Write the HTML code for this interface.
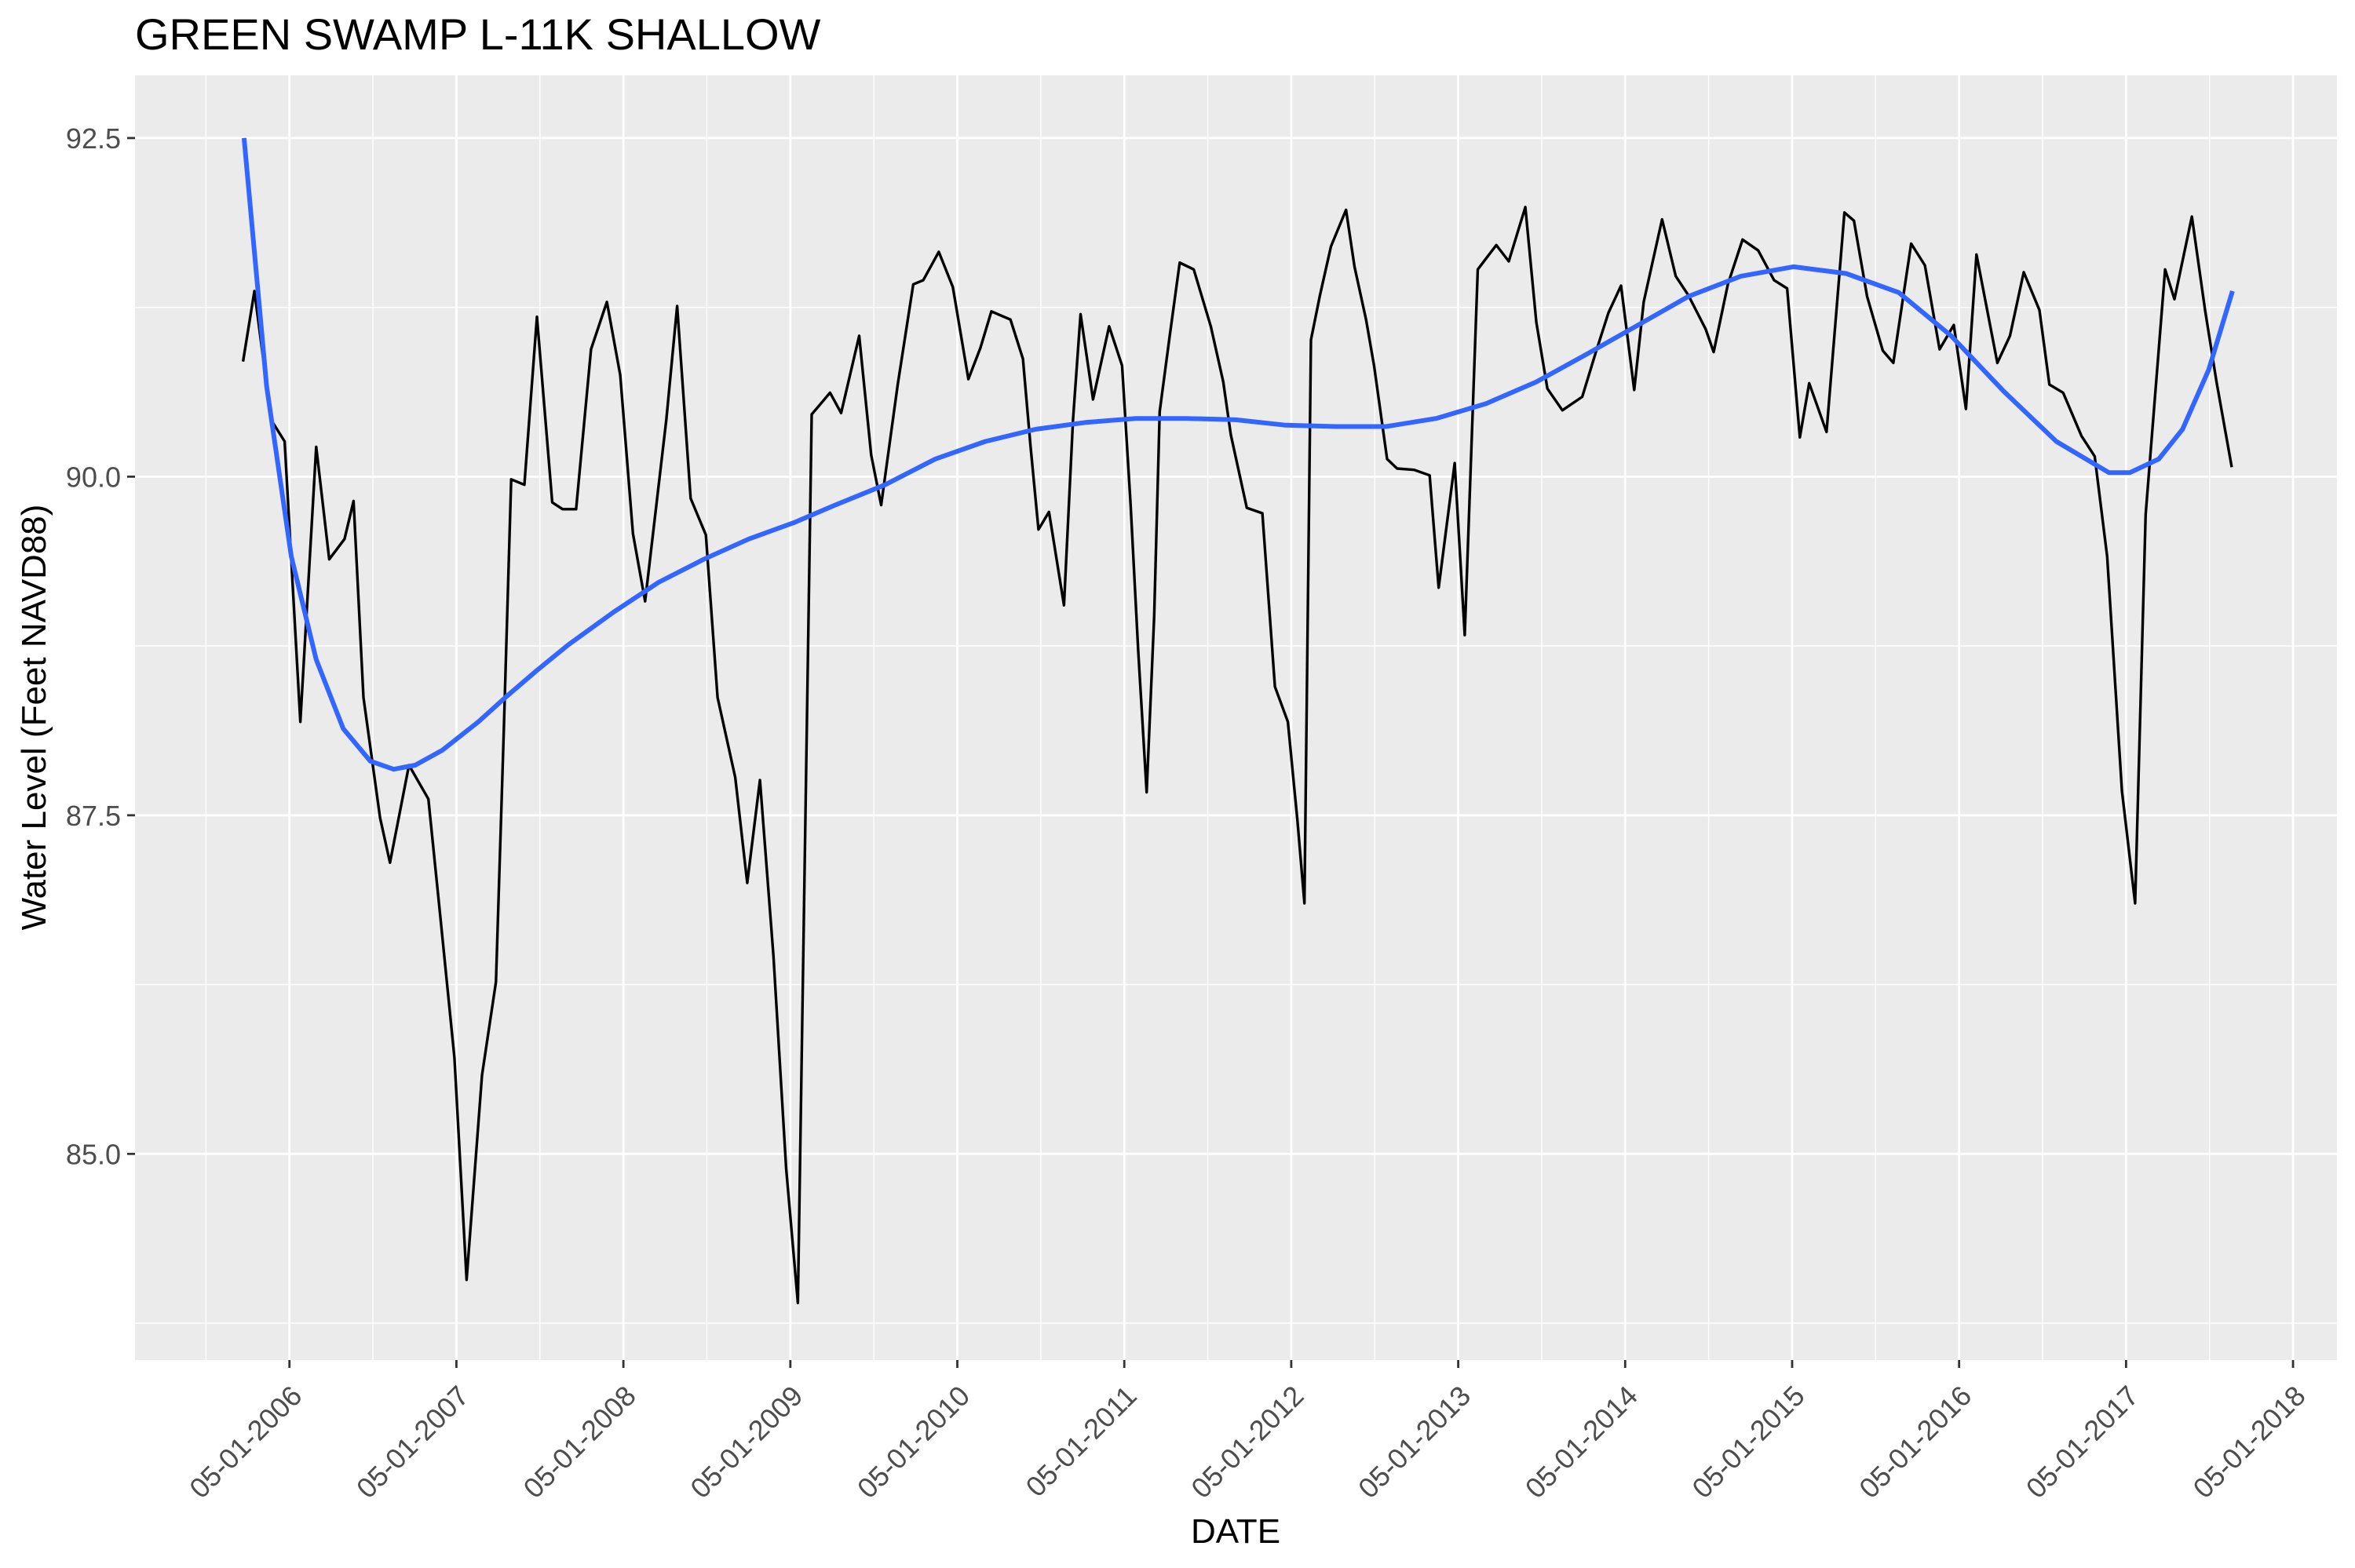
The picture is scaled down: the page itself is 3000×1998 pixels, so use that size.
<!DOCTYPE html>
<html><head><meta charset="utf-8"><style>
html,body{margin:0;padding:0;background:#fff;}
svg{display:block;font-family:"Liberation Sans",Arial,sans-serif;}
</style></head><body>
<svg id="chart" width="3000" height="1998" viewBox="0 0 3000 1998" xmlns="http://www.w3.org/2000/svg">
<rect x="0" y="0" width="3000" height="1998" fill="#fff"/>
<text x="172" y="63" font-size="56" fill="#000">GREEN SWAMP L-11K SHALLOW</text>
<rect x="172" y="96" width="2805" height="1637" fill="#ebebeb"/>
<g id="grid"></g>
<g id="axes"></g>
<g id="series"></g>
<text x="1574" y="1966" font-size="44" text-anchor="middle" fill="#000">DATE</text>
<text transform="translate(58,914) rotate(-90)" font-size="44" text-anchor="middle" fill="#000">Water Level (Feet NAVD88)</text>
</svg>
<script>
const obsDates = [2006.052,2006.120,2006.220,2006.301,2006.395,2006.490,2006.568,2006.660,2006.714,2006.773,2006.873,2006.932,2007.046,2007.162,2007.232,2007.318,2007.391,2007.483,2007.567,2007.613,2007.658,2007.737,2007.812,2007.904,2007.966,2008.047,2008.136,2008.231,2008.311,2008.387,2008.460,2008.587,2008.652,2008.733,2008.824,2008.894,2009.000,2009.072,2009.148,2009.229,2009.305,2009.375,2009.458,2009.568,2009.634,2009.742,2009.814,2009.874,2009.973,2010.066,2010.126,2010.219,2010.303,2010.396,2010.468,2010.534,2010.648,2010.723,2010.768,2010.816,2010.879,2010.969,2011.023,2011.068,2011.143,2011.239,2011.317,2011.368,2011.413,2011.464,2011.509,2011.542,2011.602,2011.662,2011.746,2011.848,2011.923,2011.968,2012.064,2012.157,2012.232,2012.310,2012.367,2012.409,2012.448,2012.502,2012.568,2012.658,2012.709,2012.778,2012.826,2012.904,2012.964,2013.066,2013.159,2013.213,2013.309,2013.369,2013.447,2013.558,2013.633,2013.732,2013.798,2013.864,2013.954,2014.073,2014.157,2014.230,2014.305,2014.384,2014.441,2014.551,2014.633,2014.708,2014.812,2014.860,2014.945,2015.033,2015.127,2015.222,2015.300,2015.376,2015.432,2015.536,2015.643,2015.700,2015.779,2015.873,2015.936,2016.043,2016.125,2016.213,2016.298,2016.371,2016.434,2016.559,2016.635,2016.717,2016.811,2016.871,2016.953,2017.063,2017.142,2017.217,2017.305,2017.384,2017.447,2017.564,2017.620,2017.724,2017.803,2017.872,2017.963];
const obsValues = [90.85,91.37,90.42,90.26,88.19,90.22,89.39,89.54,89.82,88.37,87.48,87.15,87.87,87.62,86.77,85.71,84.07,85.58,86.27,88.09,89.98,89.94,91.18,89.81,89.76,89.76,90.94,91.29,90.75,89.58,89.08,90.42,91.26,89.84,89.57,88.37,87.78,87.00,87.76,86.46,84.89,83.90,90.46,90.62,90.47,91.04,90.16,89.79,90.68,91.42,91.45,91.66,91.40,90.72,90.95,91.22,91.16,90.87,90.23,89.61,89.74,89.05,90.42,91.20,90.57,91.11,90.82,89.79,88.72,87.67,88.97,90.48,91.04,91.58,91.53,91.11,90.70,90.31,89.77,89.73,88.45,88.19,87.46,86.85,91.01,91.34,91.70,91.97,91.55,91.16,90.82,90.13,90.06,90.05,90.01,89.18,90.10,88.83,91.53,91.71,91.59,91.99,91.14,90.65,90.49,90.59,90.93,91.21,91.41,90.64,91.29,91.90,91.48,91.34,91.09,90.92,91.42,91.75,91.67,91.45,91.39,90.29,90.69,90.33,91.95,91.89,91.33,90.93,90.84,91.72,91.56,90.94,91.12,90.50,91.64,90.84,91.04,91.51,91.23,90.68,90.62,90.30,90.15,89.41,87.68,86.85,89.72,91.53,91.31,91.92,91.23,90.70,90.07];
const smoothDates = [2006.058,2006.193,2006.341,2006.49,2006.652,2006.814,2006.954,2007.083,2007.245,2007.461,2007.623,2007.812,2008.001,2008.271,2008.541,2008.811,2009.081,2009.35,2009.598,2009.898,2010.198,2010.498,2010.798,2011.098,2011.398,2011.698,2011.998,2012.298,2012.598,2012.898,2013.198,2013.498,2013.798,2014.079,2014.394,2014.708,2015.023,2015.338,2015.653,2015.968,2016.282,2016.597,2016.912,2017.227,2017.353,2017.526,2017.668,2017.825,2017.967];
const smoothValues = [92.50,90.67,89.41,88.65,88.14,87.90,87.84,87.87,87.98,88.19,88.37,88.57,88.76,89.00,89.22,89.39,89.54,89.66,89.79,89.94,90.13,90.26,90.35,90.40,90.43,90.43,90.42,90.38,90.37,90.37,90.43,90.54,90.70,90.89,91.11,91.33,91.48,91.55,91.50,91.36,91.04,90.63,90.26,90.03,90.03,90.13,90.35,90.79,91.37];
const yTickValues = [85, 87.5, 90, 92.5];
const yTickLabels = ["85.0","87.5","90.0","92.5"];
const yMinorValues = [83.75, 86.25, 88.75, 91.25];
const xTickYears = [2006,2007,2008,2009,2010,2011,2012,2013,2014,2015,2016,2017,2018];
const xTickLabels = ["05-01-2006","05-01-2007","05-01-2008","05-01-2009","05-01-2010","05-01-2011","05-01-2012","05-01-2013","05-01-2014","05-01-2015","05-01-2016","05-01-2017","05-01-2018"];

const NS = "http://www.w3.org/2000/svg";
const PL=172, PR=2977, PT=96, PB=1733;
const X0=2005.405, X1=2018.593, Y0=83.478, Y1=92.963;
function xs(t){return PL+(t-X0)/(X1-X0)*(PR-PL);}
function ys(v){return PT+(Y1-v)/(Y1-Y0)*(PB-PT);}
function mk(tag, attrs, parent){const e=document.createElementNS(NS,tag);for(const k in attrs)e.setAttribute(k,attrs[k]);parent.appendChild(e);return e;}
const grid=document.getElementById('grid'), axes=document.getElementById('axes'), series=document.getElementById('series');

yMinorValues.forEach(v=>{
  const l=mk('line',{x1:PL,x2:PR,y1:ys(v),y2:ys(v),stroke:'#fff','stroke-width':1.4},grid);
  
  
});
const minorYears=[2005.83].concat(xTickYears.slice(0,12).map(y=>y+0.83));
minorYears.forEach(t=>{
  const l=mk('line',{x1:xs(t),x2:xs(t),y1:PT,y2:PB,stroke:'#fff','stroke-width':1.4},grid);
  
  
});
yTickValues.forEach((v,i)=>{
  const y=ys(v);
  const l=mk('line',{x1:PL,x2:PR,y1:y,y2:y,stroke:'#fff','stroke-width':2.8},grid);
  
  
  const tk=mk('line',{x1:PL-10,x2:PL,y1:y,y2:y,stroke:'#333','stroke-width':2.8},axes);
  
  
  const tx=mk('text',{x:PL-18,y:y+13,'font-size':36,'text-anchor':'end',fill:'#4d4d4d'},axes);
  tx.textContent=yTickLabels[i];
  
  
});
xTickYears.forEach((yr,i)=>{
  const x=xs(yr+0.33);
  const l=mk('line',{x1:x,x2:x,y1:PT,y2:PB,stroke:'#fff','stroke-width':2.8},grid);
  
  
  const tk=mk('line',{x1:x,x2:x,y1:PB,y2:PB+10,stroke:'#333','stroke-width':2.8},axes);
  
  
  const tx=mk('text',{transform:`translate(${x+18},${PB+48}) rotate(-45)`,'font-size':36,'text-anchor':'end',fill:'#4d4d4d'},axes);
  tx.textContent=xTickLabels[i];
  
  
});
const obsPts=obsDates.map((t,i)=>xs(t).toFixed(1)+','+ys(obsValues[i]).toFixed(1)).join(' ');
const obs=mk('polyline',{points:obsPts,fill:'none',stroke:'#000','stroke-width':3.4,'stroke-linejoin':'round'},series);


const smPts=smoothDates.map((t,i)=>xs(t).toFixed(1)+','+ys(smoothValues[i]).toFixed(1)).join(' ');
const sm=mk('polyline',{points:smPts,fill:'none',stroke:'#3366ff','stroke-width':6,'stroke-linejoin':'round'},series);


</script>
</body></html>
